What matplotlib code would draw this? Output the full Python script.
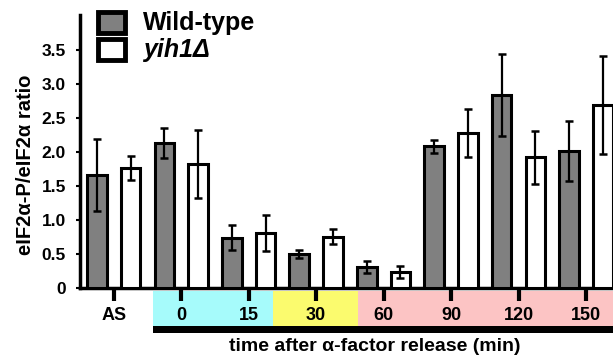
import numpy as np
import matplotlib
matplotlib.use("Agg")
import matplotlib.pyplot as plt
from matplotlib.patches import Rectangle

plt.rcParams['font.family'] = ['Liberation Sans', 'DejaVu Sans']
plt.rcParams['font.weight'] = 'bold'

groups = ['AS', '0', '15', '30', '60', '90', '120', '150']
wt = [1.66, 2.13, 0.74, 0.50, 0.31, 2.08, 2.84, 2.01]
wt_err = [0.53, 0.22, 0.18, 0.06, 0.09, 0.10, 0.60, 0.44]
yih1 = [1.76, 1.82, 0.81, 0.75, 0.24, 2.28, 1.92, 2.69]
yih1_err = [0.18, 0.50, 0.26, 0.11, 0.09, 0.35, 0.39, 0.72]
yticks = [0, 0.5, 1.0, 1.5, 2.0, 2.5, 3.0, 3.5]
ytick_labels = ['0', '0.5', '1.0', '1.5', '2.0', '2.5', '3.0', '3.5']

# coloured phase bands under the axis (in group units)
bands = [(0.58, 2.36, '#a6fbfb'), (2.36, 3.62, '#fbfb6e'), (3.62, 7.4, '#fcc4c4')]

fig = plt.figure(figsize=(6.13, 3.58), dpi=100)
ax = fig.add_axes([0.1305, 0.1955, 0.8695, 0.7625])

x = np.arange(len(groups))
w = 0.29
off = 0.25
errkw = dict(elinewidth=1.6, capsize=2.6, capthick=1.8, ecolor='black')
ax.bar(x - off, wt, w, yerr=wt_err, color='#808080', edgecolor='black',
       linewidth=2.2, error_kw=errkw, zorder=3)
ax.bar(x + off, yih1, w, yerr=yih1_err, color='white', edgecolor='black',
       linewidth=2.2, error_kw=errkw, zorder=3)

ax.set_xlim(-0.5, 7.4)
ax.set_ylim(0, 4.01)

for s in ['top', 'right']:
    ax.spines[s].set_visible(False)
ax.spines['left'].set_linewidth(2.5)
ax.spines['bottom'].set_linewidth(2.5)

ax.set_yticks(yticks)
ax.set_yticklabels(ytick_labels, fontsize=12.5, fontweight='bold')
ax.tick_params(axis='y', length=3, width=1.5, pad=7)
ax.set_xticks(x)
ax.set_xticklabels(groups, fontsize=13, fontweight='bold')
ax.tick_params(axis='x', length=9, width=3, pad=5)

for x0, x1, c in bands:
    ax.add_patch(Rectangle((x0, -0.139), x1 - x0, 0.128, transform=ax.get_xaxis_transform(),
                           facecolor=c, edgecolor='none', clip_on=False, zorder=0))
ax.add_patch(Rectangle((bands[0][0], -0.165), bands[-1][1] - bands[0][0], 0.026,
                       transform=ax.get_xaxis_transform(), facecolor='black',
                       edgecolor='none', clip_on=False, zorder=0))

ax.text(3.87, -0.216, 'time after \u03b1-factor release (min)',
        transform=ax.get_xaxis_transform(), ha='center', va='center',
        fontsize=14, fontweight='bold')
ax.set_ylabel('eIF2\u03b1-P/eIF2\u03b1 ratio', fontsize=14.5, fontweight='bold')
ax.yaxis.set_label_coords(-0.084, 0.45)

# legend
ax.add_patch(Rectangle((0.033, 0.934), 0.052, 0.077, transform=ax.transAxes,
                       facecolor='#808080', edgecolor='black', linewidth=3.5, clip_on=False))
ax.add_patch(Rectangle((0.033, 0.834), 0.052, 0.077, transform=ax.transAxes,
                       facecolor='white', edgecolor='black', linewidth=3.5, clip_on=False))
ax.text(0.118, 0.972, 'Wild-type', transform=ax.transAxes, fontsize=18,
        fontweight='bold', va='center')
ax.text(0.118, 0.872, 'yih1\u0394', transform=ax.transAxes, fontsize=18,
        fontweight='bold', style='italic', va='center')

fig.savefig('out.png', dpi=100)
